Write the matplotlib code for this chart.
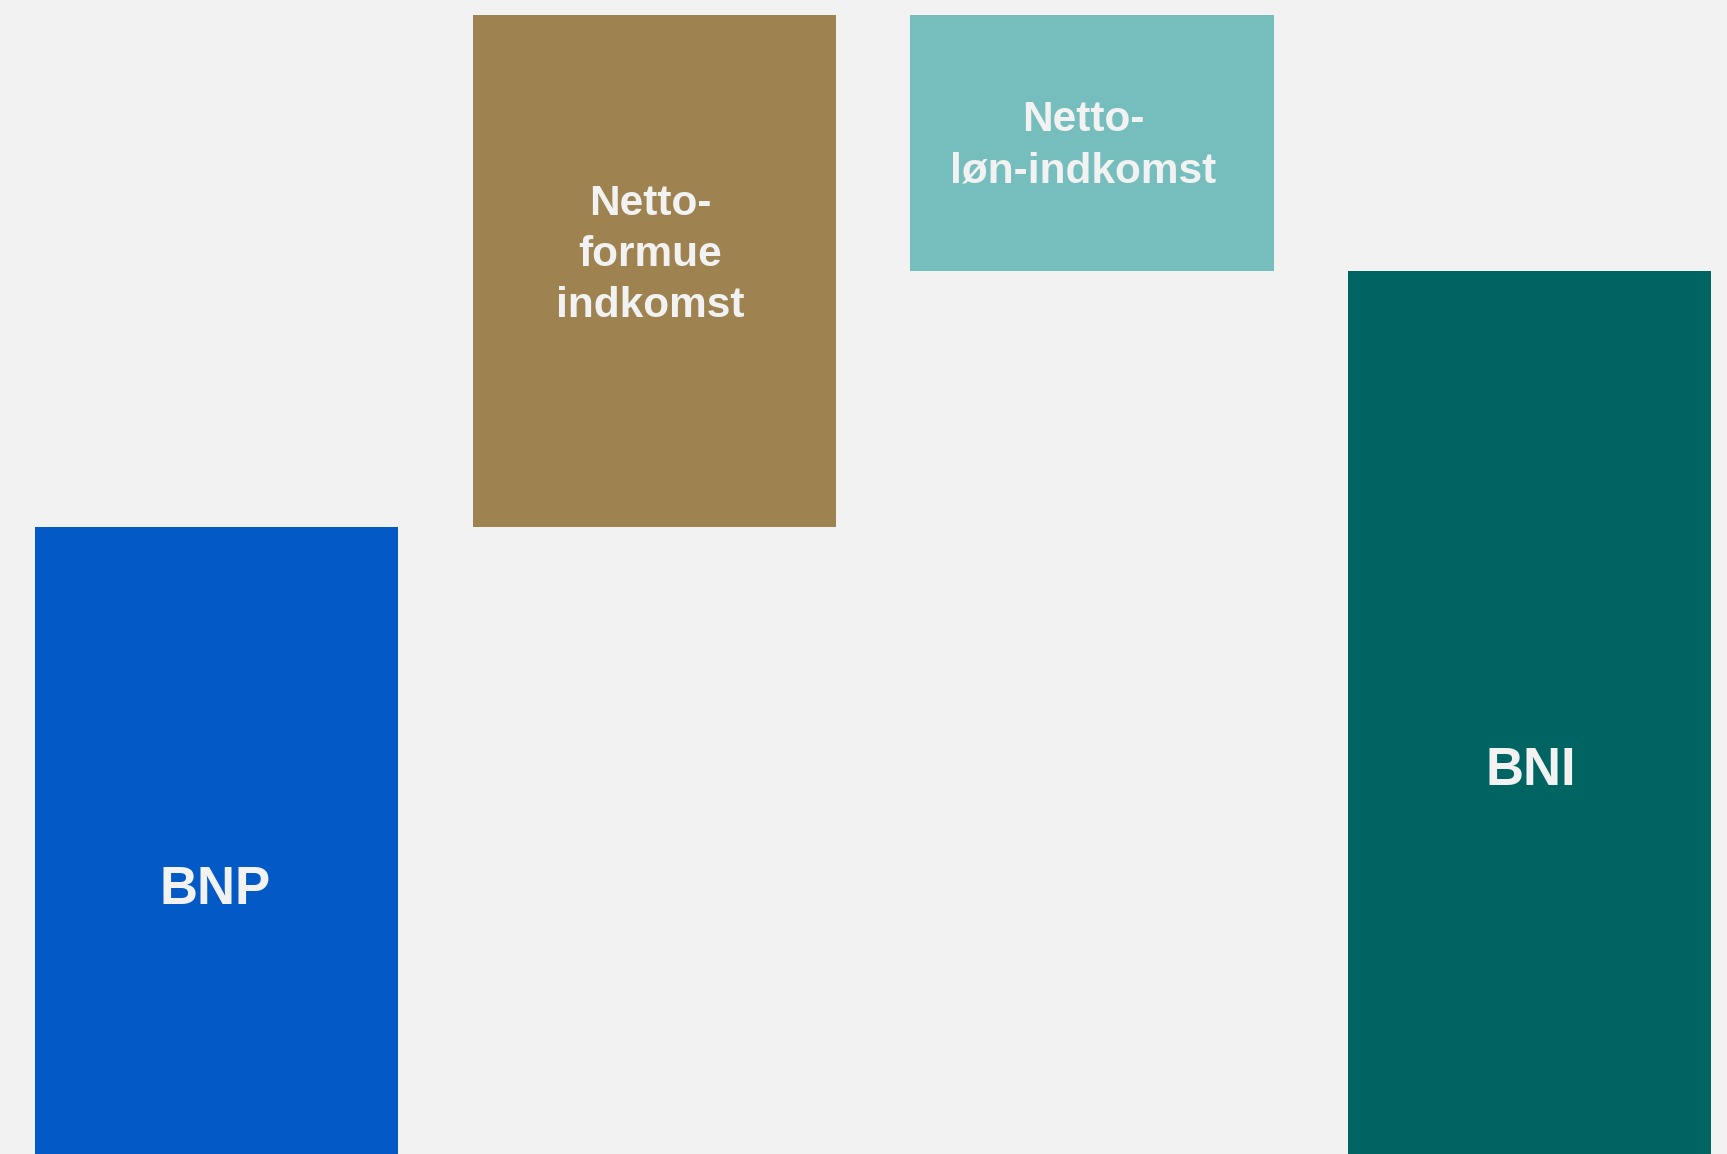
import matplotlib
matplotlib.use("Agg")
import matplotlib.pyplot as plt

categories = ["BNP", "Netto-\nformue\nindkomst", "Netto-\nløn-indkomst", "BNI"]
changes = [722, 512, -256, 978]
kinds = ["total", "delta", "delta", "total"]
colors = ["#0359C6", "#9E8351", "#76BEBD", "#006462"]
label_sizes = [38, 30.5, 30.5, 38]
label_dx = [-1, -4, -9, 1]
label_dy = [-2, 16, -3, -11]

bg = "#F2F2F2"
fig = plt.figure(figsize=(17.27, 11.54), dpi=100, facecolor=bg)
ax = fig.add_axes([0, 0, 1, 1])
ax.set_facecolor(bg)

running = 0
bottoms, heights = [], []
for v, k in zip(changes, kinds):
    if k == "total":
        bottoms.append(0)
        heights.append(v)
        running = v
    else:
        bottoms.append(running)
        heights.append(v)
        running += v

x = list(range(len(categories)))
ax.bar(x, heights, bottom=bottoms, width=0.83, color=colors, linewidth=0)

for xi, b, h, lab, fs, dx, dy in zip(x, bottoms, heights, categories, label_sizes, label_dx, label_dy):
    ax.annotate(lab, (xi, b + h / 2), xytext=(dx * 0.72, dy * 0.72), textcoords="offset points",
                ha="center", va="center", color="#F2F2F2", fontsize=fs,
                fontweight="bold", family=["Liberation Sans", "DejaVu Sans"],
                linespacing=1.36, multialignment="center")

ax.set_xlim(-0.4946, 3.451)
ax.set_ylim(95, 1249)
ax.axis("off")
fig.savefig("out.png", dpi=100, facecolor=bg)
